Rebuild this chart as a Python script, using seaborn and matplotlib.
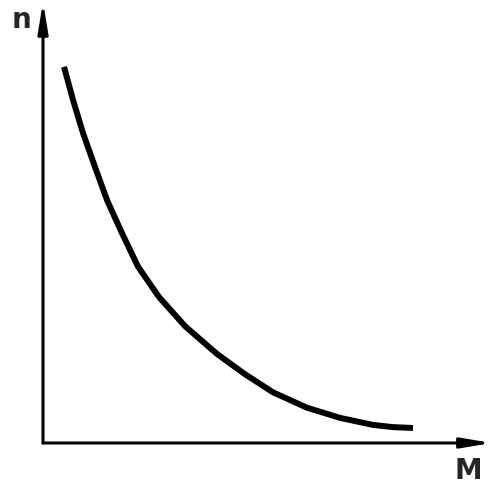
import numpy as np
import pandas as pd
import seaborn as sns
import matplotlib
matplotlib.use("Agg")
import matplotlib.pyplot as plt

# Curve (arbitrary units, axes run 0..10)
mass = [0.468, 0.668, 0.890, 1.158, 1.425, 1.759, 2.116, 2.584, 3.163,
        3.875, 4.499, 5.122, 5.880, 6.615, 7.350, 7.795, 8.241]
count = [8.53, 7.78, 7.03, 6.26, 5.51, 4.76, 4.00, 3.31, 2.65,
         2.02, 1.56, 1.15, 0.80, 0.57, 0.41, 0.36, 0.34]
axis_labels = ["M", "n"]

df = pd.DataFrame({"M": mass, "n": count})

sns.set_style("white")
plt.rcParams["font.family"] = ["DejaVu Sans"]

fig = plt.figure(figsize=(5.0, 4.87), dpi=100)
ax = fig.add_axes([0, 0, 1, 1])

sns.lineplot(data=df, x="M", y="n", sort=False, color="black", linewidth=4.3,
             solid_capstyle="butt", solid_joinstyle="round", ax=ax)

# hand drawn axes with arrow heads
arrow = dict(arrowstyle="-|>,head_length=1.8,head_width=0.3", color="black",
             lw=2.2, shrinkA=0, shrinkB=0, mutation_scale=10)
ax.annotate("", xy=(10.0, 0), xytext=(0, 0), arrowprops=arrow)
ax.annotate("", xy=(0, 10.0), xytext=(0, 0), arrowprops=arrow)

ax.text(9.47, -0.63, axis_labels[0], fontsize=20, fontweight="bold",
        ha="center", va="center")
ax.text(-0.47, 9.6, axis_labels[1], fontsize=20, fontweight="bold",
        ha="center", va="center")

ax.set_xlim(-0.958, 10.18)
ax.set_ylim(-0.998, 10.045)
ax.set_axis_off()

fig.savefig("out.png", dpi=100, facecolor="white")
